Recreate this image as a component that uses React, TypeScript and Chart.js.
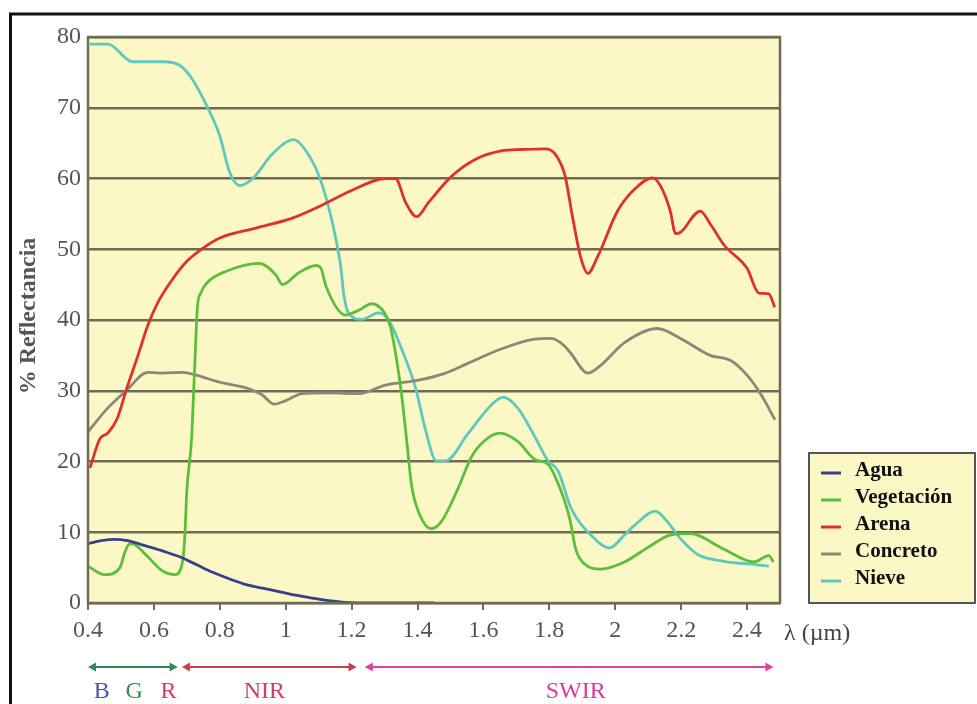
import React, { useEffect, useRef } from "react";
import { Chart, registerables } from "chart.js";

Chart.register(...registerables);

// ---- axis ticks ----
const xTicks = [0.4, 0.6, 0.8, 1.0, 1.2, 1.4, 1.6, 1.8, 2.0, 2.2, 2.4];
const yTicks = [0, 10, 20, 30, 40, 50, 60, 70, 80];

// ---- series (wavelength µm, % reflectance) ----
const aguaX = [0.40, 0.44, 0.48, 0.52, 0.58, 0.63, 0.68, 0.73, 0.78, 0.83, 0.88, 0.93, 0.98, 1.03, 1.08, 1.13, 1.18, 1.25, 1.35, 1.45];
const aguaY = [8.4, 8.8, 9.0, 8.8, 8.0, 7.3, 6.5, 5.4, 4.3, 3.4, 2.6, 2.1, 1.6, 1.1, 0.7, 0.35, 0.1, 0, 0, 0];

const vegX = [0.40, 0.45, 0.497, 0.512, 0.527, 0.54, 0.578, 0.627, 0.663, 0.684, 0.693, 0.70, 0.714, 0.723, 0.732, 0.742, 0.76, 0.82, 0.92, 0.971, 0.99, 1.04, 1.092, 1.107, 1.122, 1.182, 1.222, 1.261, 1.30, 1.318, 1.349, 1.367, 1.382, 1.403, 1.442, 1.472, 1.524, 1.563, 1.605, 1.65, 1.705, 1.756, 1.796, 1.835, 1.856, 1.866, 1.88, 1.907, 1.956, 2.028, 2.107, 2.167, 2.228, 2.33, 2.421, 2.466, 2.48];
const vegY = [5.2, 4.0, 5.0, 7.2, 8.4, 8.3, 6.7, 4.5, 4.0, 5.2, 8.7, 16, 23, 32.5, 41.8, 43.8, 45.2, 46.9, 48, 46.3, 45, 46.7, 47.7, 47.3, 44.8, 40.7, 41.4, 42.3, 41, 39, 30.4, 23, 16.6, 12.9, 10.5, 11.5, 16.3, 20.6, 23, 24, 22.8, 20.3, 19.6, 15.9, 13, 11, 7.6, 5.5, 4.8, 5.8, 8.1, 9.6, 9.8, 7.6, 5.8, 6.7, 5.8];

const arenaX = [0.406, 0.436, 0.46, 0.488, 0.518, 0.551, 0.581, 0.611, 0.657, 0.70, 0.747, 0.80, 0.91, 1.02, 1.10, 1.20, 1.303, 1.333, 1.364, 1.397, 1.433, 1.503, 1.575, 1.654, 1.72, 1.787, 1.817, 1.847, 1.871, 1.896, 1.917, 1.947, 2.007, 2.059, 2.113, 2.137, 2.167, 2.183, 2.198, 2.258, 2.288, 2.33, 2.40, 2.436, 2.466, 2.484];
const arenaY = [19.1, 23.2, 24, 26, 30.4, 34.9, 39.2, 42.4, 45.8, 48.3, 50.1, 51.6, 53, 54.4, 56, 58.3, 60, 60, 56.6, 54.6, 56.6, 60.3, 62.7, 63.9, 64.1, 64.2, 63.5, 60.5, 54.4, 48.7, 46.6, 49, 55.4, 58.5, 60.1, 59, 55.4, 52.2, 52.4, 55.4, 53.6, 50.6, 47.3, 43.8, 43.7, 41.8];

const concretoX = [0.40, 0.457, 0.518, 0.581, 0.618, 0.687, 0.729, 0.80, 0.88, 0.929, 0.965, 1.0, 1.05, 1.131, 1.222, 1.303, 1.403, 1.485, 1.554, 1.654, 1.756, 1.805, 1.847, 1.865, 1.917, 1.956, 2.028, 2.128, 2.198, 2.288, 2.349, 2.40, 2.439, 2.485];
const concretoY = [24.2, 27.4, 30.1, 32.6, 32.5, 32.6, 32.2, 31.2, 30.4, 29.4, 28.1, 28.6, 29.6, 29.7, 29.6, 30.8, 31.5, 32.5, 33.9, 35.9, 37.3, 37.4, 36.3, 35.3, 32.5, 33.6, 36.8, 38.8, 37.4, 35, 34.3, 32.2, 29.7, 25.9];

const nieveX = [0.406, 0.46, 0.536, 0.627, 0.678, 0.717, 0.76, 0.80, 0.829, 0.86, 0.90, 0.96, 1.025, 1.06, 1.10, 1.13, 1.152, 1.167, 1.176, 1.19, 1.231, 1.282, 1.312, 1.352, 1.394, 1.424, 1.457, 1.485, 1.554, 1.624, 1.66, 1.705, 1.756, 1.796, 1.826, 1.866, 1.926, 1.983, 2.028, 2.059, 2.122, 2.158, 2.198, 2.249, 2.33, 2.43, 2.466];
const nieveY = [79, 79, 76.5, 76.5, 76, 74, 70.3, 66, 61, 59, 60, 63.5, 65.5, 64, 60.5, 56, 51.5, 47.5, 43.7, 41, 40.1, 41, 40, 35.9, 30.4, 24.5, 20.1, 20.1, 24, 28, 29.1, 27.5, 23.5, 20.1, 18.7, 13.4, 9.6, 7.8, 9.6, 11, 13, 11.5, 9.1, 6.9, 5.9, 5.4, 5.2];

const seriesNames = ["Agua", "Vegetación", "Arena", "Concreto", "Nieve"];
const seriesColors = ["#36418c", "#5cbf3c", "#e0302b", "#8a887c", "#5ec8bf"];

// ---- spectral bands below the axis ----
const bandNames = ["B", "G", "R", "NIR", "SWIR"];
const bandLabelAt = [0.442, 0.54, 0.644, 0.935, 1.88];
const bandLabelColors = ["#4b56a8", "#2f8a50", "#d8405a", "#d4405a", "#d8399b"];
const arrowStart = [0.4, 0.685, 1.24];
const arrowEnd = [0.672, 1.215, 2.48];
const arrowColors = ["#2e8b57", "#d63a4a", "#e040a0"];

const xTitle = "λ (µm)";
const yTitle = "% Reflectancia";

const SERIF = '"Liberation Serif", "DejaVu Serif", serif';
const GRID = "#6f6b55";
const PLOT_BG = "#fbf8c6";

function toPoints(xs: number[], ys: number[]) {
  return xs.map((x, i) => ({ x, y: ys[i] }));
}

function drawArrow(ctx: CanvasRenderingContext2D, x1: number, x2: number, y: number, color: string) {
  ctx.save();
  ctx.strokeStyle = color;
  ctx.fillStyle = color;
  ctx.lineWidth = 2;
  ctx.beginPath();
  ctx.moveTo(x1 + 4, y);
  ctx.lineTo(x2 - 4, y);
  ctx.stroke();
  const h = 8, w = 4.5;
  ctx.beginPath();
  ctx.moveTo(x1, y);
  ctx.lineTo(x1 + h, y - w);
  ctx.lineTo(x1 + h, y + w);
  ctx.closePath();
  ctx.fill();
  ctx.beginPath();
  ctx.moveTo(x2, y);
  ctx.lineTo(x2 - h, y - w);
  ctx.lineTo(x2 - h, y + w);
  ctx.closePath();
  ctx.fill();
  ctx.restore();
}

const decor = {
  id: "decor",
  beforeDraw(chart: any) {
    const { ctx, chartArea: a } = chart;
    ctx.save();
    ctx.fillStyle = "#ffffff";
    ctx.fillRect(0, 0, chart.width, chart.height);
    ctx.fillStyle = PLOT_BG;
    ctx.fillRect(a.left, a.top, a.right - a.left, a.bottom - a.top);
    ctx.restore();
  },
  afterDraw(chart: any) {
    const { ctx, chartArea: a } = chart;
    const xs = chart.scales.x;
    ctx.save();
    // plot box
    ctx.strokeStyle = GRID;
    ctx.lineWidth = 2.5;
    ctx.strokeRect(a.left, a.top, a.right - a.left, a.bottom - a.top);

    // outer frame (top & left)
    ctx.strokeStyle = "#111";
    ctx.lineWidth = 3;
    ctx.beginPath();
    ctx.moveTo(10.5, chart.height);
    ctx.lineTo(10.5, 14);
    ctx.lineTo(chart.width, 14);
    ctx.stroke();

    // y title
    ctx.save();
    ctx.translate(29, 316);
    ctx.rotate(-Math.PI / 2);
    ctx.fillStyle = "#555";
    ctx.font = `bold 24px ${SERIF}`;
    ctx.textAlign = "center";
    ctx.textBaseline = "middle";
    ctx.fillText(yTitle, 0, 0);
    ctx.restore();

    // x title
    ctx.fillStyle = "#444";
    ctx.font = `24px ${SERIF}`;
    ctx.textAlign = "left";
    ctx.textBaseline = "middle";
    ctx.fillText(xTitle, a.right + 4, 634);

    // legend
    const lx = 809, ly = 453, lw = 166, lh = 150;
    ctx.fillStyle = PLOT_BG;
    ctx.fillRect(lx, ly, lw, lh);
    ctx.strokeStyle = "#555";
    ctx.lineWidth = 2;
    ctx.strokeRect(lx, ly, lw, lh);
    ctx.font = `bold 21px ${SERIF}`;
    ctx.textBaseline = "middle";
    seriesNames.forEach((name, i) => {
      const y = 471 + i * 27;
      ctx.strokeStyle = seriesColors[i];
      ctx.lineWidth = 3;
      ctx.beginPath();
      ctx.moveTo(821, y + 2);
      ctx.lineTo(841, y + 2);
      ctx.stroke();
      ctx.fillStyle = "#111";
      ctx.fillText(name, 855, y);
    });

    // band arrows
    arrowStart.forEach((s, i) => {
      drawArrow(ctx, xs.getPixelForValue(s), xs.getPixelForValue(arrowEnd[i]), 667, arrowColors[i]);
    });
    ctx.font = `24px ${SERIF}`;
    ctx.textAlign = "center";
    ctx.textBaseline = "middle";
    bandNames.forEach((b, i) => {
      ctx.fillStyle = bandLabelColors[i];
      ctx.fillText(b, xs.getPixelForValue(bandLabelAt[i]), 692);
    });
    ctx.restore();
  },
};

export default function App() {
  const ref = useRef<HTMLCanvasElement | null>(null);
  useEffect(() => {
    if (!ref.current) return;
    const mk = (xs: number[], ys: number[], i: number) => ({
      label: seriesNames[i],
      data: toPoints(xs, ys),
      borderColor: seriesColors[i],
      backgroundColor: seriesColors[i],
      borderWidth: 2.8,
      pointRadius: 0,
      cubicInterpolationMode: "monotone" as const,
      fill: false,
    });
    const chart = new Chart(ref.current, {
      type: "line",
      data: {
        datasets: [
          mk(aguaX, aguaY, 0),
          mk(vegX, vegY, 1),
          mk(arenaX, arenaY, 2),
          mk(concretoX, concretoY, 3),
          mk(nieveX, nieveY, 4),
        ],
      },
      options: {
        responsive: false,
        animation: false,
        events: [],
        layout: { padding: { left: 0, top: 37, right: 197, bottom: 0 } },
        plugins: { legend: { display: false }, tooltip: { enabled: false } },
        scales: {
          x: {
            type: "linear",
            min: 0.4,
            max: 2.5,
            afterFit: (s: any) => { s.height = 101; },
            afterBuildTicks: (s: any) => { s.ticks = xTicks.map((v) => ({ value: v })); },
            border: { display: false },
            grid: { drawOnChartArea: false, drawTicks: true, tickLength: 7, color: GRID, lineWidth: 2 },
            ticks: {
              color: "#555",
              font: { family: SERIF, size: 24 },
              padding: 6,
              maxRotation: 0,
              autoSkip: false,
              callback: (v: any) => String(Math.round(Number(v) * 10) / 10),
            },
          },
          y: {
            type: "linear",
            min: 0,
            max: 80,
            afterFit: (s: any) => { s.width = 88; },
            afterBuildTicks: (s: any) => { s.ticks = yTicks.map((v) => ({ value: v })); },
            border: { display: false },
            grid: { drawTicks: false, color: GRID, lineWidth: 2.5 },
            ticks: {
              color: "#555",
              font: { family: SERIF, size: 24 },
              padding: 7,
            },
          },
        },
      },
      plugins: [decor],
    });
    return () => chart.destroy();
  }, []);
  return (
    <div style={{ position: "absolute", left: 0, top: 0, width: 977, height: 704, background: "#fff" }}>
      <canvas ref={ref} width={977} height={704} style={{ display: "block" }} />
    </div>
  );
}
